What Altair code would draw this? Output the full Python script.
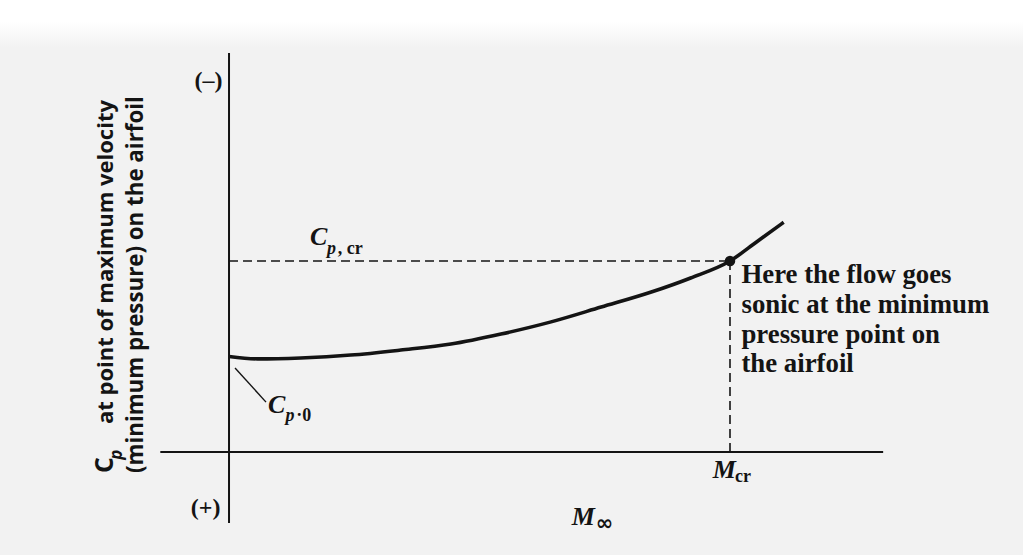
import altair as alt
import pandas as pd

# ---- data (free-stream Mach number vs. minus the peak pressure coefficient) ----
mach = [0.0, 0.04, 0.10, 0.17, 0.24, 0.31, 0.38, 0.45, 0.52, 0.59, 0.645, 0.70, 0.738, 0.775]
neg_cp = [0.40, 0.39, 0.394, 0.406, 0.427, 0.452, 0.494, 0.545, 0.607, 0.670, 0.729, 0.80, 0.882, 0.962]

m_cr = 0.70          # critical Mach number
neg_cp_cr = 0.80     # -Cp,cr

annotation_lines = [
    "Here the flow goes",
    "sonic at the minimum",
    "pressure point on",
    "the airfoil",
]
y_title_lines = ["at point of maximum velocity", "(minimum pressure) on the airfoil"]

# ---- layout ----
W, H = 1023, 555
x_dom = [-0.320, 1.1094]
y_dom = [-0.4314, 1.8932]
INK = "#141414"
SERIF = "Liberation Serif"
SANS = "Open Sans"

xs = alt.Scale(domain=x_dom, nice=False, zero=False)
ys = alt.Scale(domain=y_dom, nice=False, zero=False)


def X(f):
    return alt.X(f, type="quantitative", scale=xs, axis=None)


def Y(f):
    return alt.Y(f, type="quantitative", scale=ys, axis=None)


# soft white band along the top edge
band = alt.Chart(pd.DataFrame({"a": [0]})).mark_rect(
    fill=alt.Gradient(
        gradient="linear", x1=0, x2=0, y1=0, y2=1,
        stops=[alt.GradientStop(color="#ffffff", offset=0),
               alt.GradientStop(color="#ffffff", offset=0.45),
               alt.GradientStop(color="#f2f2f2", offset=1)],
    )
).encode(x=alt.value(0), x2=alt.value(W), y=alt.value(0), y2=alt.value(48))

# coordinate axes
axes_df = pd.DataFrame({
    "x": [0.0, -0.096], "x2": [0.0, 0.914],
    "y": [1.671, 0.0], "y2": [-0.297, 0.0],
})
axes = alt.Chart(axes_df).mark_rule(color=INK, strokeWidth=2).encode(
    x=X("x"), x2="x2", y=Y("y"), y2="y2")

# dashed guides to the critical point
guide_df = pd.DataFrame({
    "x": [0.0, m_cr], "x2": [m_cr, m_cr],
    "y": [neg_cp_cr, neg_cp_cr], "y2": [neg_cp_cr, 0.0],
})
guides = alt.Chart(guide_df).mark_rule(
    color=INK, strokeWidth=1.6, strokeDash=[9, 5]
).encode(x=X("x"), x2="x2", y=Y("y"), y2="y2")

curve = alt.Chart(pd.DataFrame({"m": mach, "cp": neg_cp})).mark_line(
    color=INK, strokeWidth=3.6, interpolate="monotone"
).encode(x=X("m"), y=Y("cp"))

crit_pt = alt.Chart(pd.DataFrame({"m": [m_cr], "cp": [neg_cp_cr]})).mark_point(
    filled=True, color=INK, size=110, opacity=1
).encode(x=X("m"), y=Y("cp"))

leader = alt.Chart(pd.DataFrame({"x": [0.0084], "x2": [0.0517], "y": [0.352], "y2": [0.209]})).mark_rule(
    color=INK, strokeWidth=1.4
).encode(x=X("x"), x2="x2", y=Y("y"), y2="y2")


def text_layer(rows, **kw):
    df = pd.DataFrame(rows, columns=["t", "x", "y"])
    opts = dict(color=INK, align="left", baseline="alphabetic")
    opts.update(kw)
    return alt.Chart(df).mark_text(**opts).encode(x=X("x"), y=Y("y"), text="t:N")


# note beside the critical point
note = text_layer(
    [(s, 0.716, yy) for s, yy in zip(annotation_lines, [0.708, 0.582, 0.457, 0.336])],
    font=SERIF, fontWeight="bold", fontSize=26.8)

# italic main symbols
symbols = text_layer(
    [("C", 0.113, 0.867), ("C", 0.0545, 0.163), ("M", 0.676, -0.109), ("M", 0.479, -0.306)],
    font=SERIF, fontWeight="bold", fontStyle="italic", fontSize=26)

subs_italic = text_layer(
    [("p", 0.137, 0.829), ("p", 0.079, 0.130)],
    font=SERIF, fontWeight="bold", fontStyle="italic", fontSize=18)

subs_upright = text_layer(
    [(", cr", 0.152, 0.829), ("\u00b70", 0.094, 0.130), ("cr", 0.707, -0.126)],
    font=SERIF, fontWeight="bold", fontSize=18)

infinity = text_layer([("\u221e", 0.5125, -0.328)], font="DejaVu Sans",
                      fontWeight="bold", fontSize=21)

signs = text_layer(
    [("(\u2013)", -0.009, 1.523), ("(+)", -0.012, -0.262)],
    font=SERIF, fontWeight="bold", fontSize=24, align="right")

# rotated axis title
title_c = text_layer([("C", -0.162, -0.088)], font=SANS, fontWeight="bold",
                     fontSize=25, angle=270)
title_p = text_layer([("p", -0.150, -0.032)], font=SANS, fontWeight="bold",
                     fontStyle="italic", fontSize=17, angle=270)
title_l1 = text_layer([(y_title_lines[0], -0.162, 0.117)], font=SANS, fontWeight="bold",
                      fontSize=22, angle=270)
title_l2 = text_layer([(y_title_lines[1], -0.120, -0.088)], font=SANS, fontWeight="bold",
                      fontSize=22.3, angle=270)

chart = alt.layer(
    band, axes, guides, curve, crit_pt, leader,
    note, symbols, subs_italic, subs_upright, infinity, signs,
    title_c, title_p, title_l1, title_l2,
).properties(
    width=W, height=H,
    autosize=alt.AutoSizeParams(type="none"),
    padding=0,
    background="#f2f2f2",
).configure_view(stroke=None)

chart.save("out.html", embed_options={"renderer": "svg", "actions": False})
